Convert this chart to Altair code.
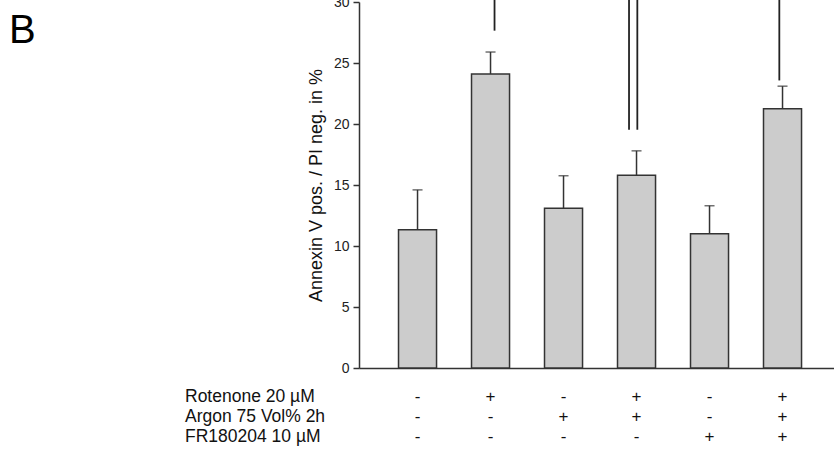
import altair as alt
import pandas as pd

# ---- data ----
groups = ["ctrl", "rot", "ar", "rot+ar", "fr", "rot+ar+fr"]
means = [11.33, 24.1, 13.1, 15.8, 11.0, 21.25]
upper = [14.6, 25.9, 15.76, 17.8, 13.3, 23.1]

row_labels = ["Rotenone 20 µM", "Argon 75 Vol% 2h", "FR180204 10 µM"]
rotenone = ["-", "+", "-", "+", "-", "+"]
argon = ["-", "-", "+", "+", "-", "+"]
fr180204 = ["-", "-", "-", "-", "+", "+"]

# significance lines (cut off at the top in the reference)
sig_groups = ["rot", "rot+ar", "rot+ar", "rot+ar+fr"]
sig_bottom = [27.65, 19.53, 19.53, 23.57]
sig_top = 31.5

y_ticks = [0, 5, 10, 15, 20, 25, 30]
y_title = "Annexin V pos. / PI neg. in %"
panel_label = "B"

FONT = "Liberation Sans"
DARK = "#333333"

bars_df = pd.DataFrame({"group": groups, "mean": means, "upper": upper})
sig_df = pd.DataFrame({"group": sig_groups, "bottom": sig_bottom,
                       "top": [sig_top] * len(sig_groups), "idx": list(range(len(sig_groups)))})

rows = []
for lab, signs in zip(row_labels, [rotenone, argon, fr180204]):
    for g, s in zip(groups, signs):
        rows.append({"row": lab, "group": g, "sign": s})
table_df = pd.DataFrame(rows)
labels_df = pd.DataFrame({"row": row_labels})

xscale = alt.Scale(domain=groups, paddingInner=0.479, paddingOuter=0.493, align=0.549)
xenc = alt.X("group:N", scale=xscale,
             axis=alt.Axis(title=None, labels=False, ticks=False, domain=True,
                           domainColor=DARK, domainWidth=1.5, grid=False))
yscale = alt.Scale(domain=[0, 30], nice=False, zero=True)
yenc = alt.Y("mean:Q", scale=yscale,
             axis=alt.Axis(title=y_title, values=y_ticks, grid=False,
                           domainColor=DARK, domainWidth=1.5, tickColor=DARK,
                           tickWidth=1.5, tickSize=6, labelFontSize=14, labelPadding=4,
                           labelColor="#222222", labelFont=FONT, titleFont=FONT,
                           titleFontSize=18, titleFontWeight="normal", titleColor="#111111",
                           titlePadding=8))

bars = alt.Chart(bars_df).mark_bar(color="#cccccc", stroke=DARK, strokeWidth=1.5).encode(
    x=xenc, y=yenc)

err = alt.Chart(bars_df).mark_rule(color=DARK, strokeWidth=1.5).encode(
    x=alt.X("group:N", scale=xscale), y=alt.Y("mean:Q", scale=yscale), y2="upper:Q")

caps = alt.Chart(bars_df).mark_tick(color=DARK, thickness=1.5, size=10).encode(
    x=alt.X("group:N", scale=xscale), y=alt.Y("upper:Q", scale=yscale))

sig_offsets = [4, -7.5, 0.8, -3.2]
sig_layers = []
for i, off in enumerate(sig_offsets):
    sig_layers.append(
        alt.Chart(sig_df).transform_filter(alt.datum.idx == i)
        .mark_rule(color="#222222", strokeWidth=1.8, xOffset=off, clip=False)
        .encode(x=alt.X("group:N", scale=xscale),
                y=alt.Y("bottom:Q", scale=yscale), y2="top:Q")
    )

rowscale = alt.Scale(domain=row_labels, range=[400, 440], padding=0)

signs = alt.Chart(table_df).mark_text(font=FONT, fontSize=17, color="#111111",
                                      baseline="alphabetic", align="center").encode(
    x=alt.X("group:N", scale=xscale),
    y=alt.Y("row:N", scale=rowscale, axis=None),
    text="sign:N")

row_text = alt.Chart(labels_df).mark_text(font=FONT, fontSize=17.5, color="#111111",
                                          baseline="alphabetic", align="left").encode(
    x=alt.value(-174),
    y=alt.Y("row:N", scale=rowscale, axis=None),
    text="row:N")

label_b = alt.Chart(pd.DataFrame({"t": [panel_label]})).mark_text(
    font=FONT, fontSize=40, color="#000000", baseline="alphabetic", align="left").encode(
    x=alt.value(-350), y=alt.value(41), text="t:N")

main = alt.layer(bars, err, caps, *sig_layers)
chart = alt.layer(main, signs, row_text, label_b).resolve_scale(y="independent").properties(
    width=475, height=366,
    autosize=alt.AutoSizeParams(type="none"),
    padding={"left": 359, "top": 2, "right": 0, "bottom": 81},
).configure_view(stroke=None)

chart.save("out.html", embed_options={"renderer": "svg", "actions": False})
